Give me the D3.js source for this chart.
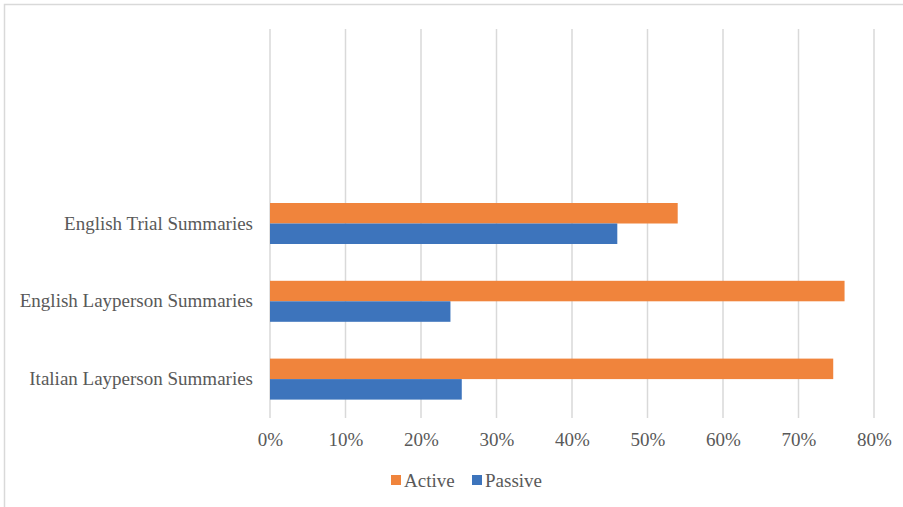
<!DOCTYPE html>
<html>
<head>
<meta charset="utf-8">
<script src="https://cdn.jsdelivr.net/npm/d3@7"></script>
<style>
  body { margin: 0; background: #fff; }
  svg text { font-family: "Liberation Serif", "Times New Roman", serif; fill: #595959; }
</style>
</head>
<body>
<div id="viz"></div>
<script>
// chart data
const categories = ["", "", "English Trial Summaries", "English Layperson Summaries", "Italian Layperson Summaries"];
const seriesNames = ["Active", "Passive"];
const activeValues = [null, null, 0.54, 0.761, 0.746];
const passiveValues = [null, null, 0.46, 0.239, 0.254];
const xTicks = [0, 0.1, 0.2, 0.3, 0.4, 0.5, 0.6, 0.7, 0.8];

const COLORS = {Active: "#f0843c", Passive: "#3d74bc"};
const FONT_SIZE = 19;

const F_WIDTH = 903;
const F_HEIGHT = 507;
const MARGINS = {left: 270, right: 29, top: 29, bottom: 89};
const VIS_WIDTH = F_WIDTH - MARGINS.left - MARGINS.right;
const VIS_HEIGHT = F_HEIGHT - MARGINS.top - MARGINS.bottom;

const FRAME = d3.select("#viz")
  .append("svg")
    .attr("width", F_WIDTH)
    .attr("height", F_HEIGHT);

// outer chart border
FRAME.append("rect")
  .attr("x", 4.5).attr("y", 4.5)
  .attr("width", F_WIDTH + 10).attr("height", F_HEIGHT + 10)
  .attr("fill", "none")
  .attr("stroke", "#d9d9d9")
  .attr("stroke-width", 1.5);

const X_SCALE = d3.scaleLinear()
  .domain([0, 0.8])
  .range([0, 604]);

const Y_SCALE = d3.scaleBand()
  .domain(categories.map((d, i) => i))
  .range([0, VIS_HEIGHT])
  .paddingInner(0.473)
  .paddingOuter(0.2365);

const SUB_SCALE = d3.scaleBand()
  .domain(seriesNames)
  .range([0, Y_SCALE.bandwidth()]);

const plot = FRAME.append("g")
  .attr("transform", "translate(" + MARGINS.left + "," + MARGINS.top + ")");

// vertical gridlines
plot.selectAll(".grid")
  .data(xTicks)
  .enter()
  .append("line")
    .attr("x1", d => X_SCALE(d)).attr("x2", d => X_SCALE(d))
    .attr("y1", 0).attr("y2", VIS_HEIGHT)
    .attr("stroke", "#d9d9d9")
    .attr("stroke-width", 1.5);

// bars
const rows = categories.map((c, i) => ({i: i, Active: activeValues[i], Passive: passiveValues[i]}));

seriesNames.forEach(s => {
  plot.selectAll(".bar-" + s)
    .data(rows.filter(r => r[s] != null))
    .enter()
    .append("rect")
      .attr("x", 0)
      .attr("y", d => Y_SCALE(d.i) + SUB_SCALE(s))
      .attr("width", d => X_SCALE(d[s]))
      .attr("height", SUB_SCALE.bandwidth())
      .attr("fill", COLORS[s]);
});

// x axis labels
const xAxis = plot.append("g")
  .attr("transform", "translate(0," + VIS_HEIGHT + ")")
  .call(d3.axisBottom(X_SCALE).tickValues(xTicks).tickFormat(d3.format(".0%")).tickSize(0).tickPadding(15));
xAxis.select(".domain").remove();
xAxis.selectAll("text").attr("font-size", FONT_SIZE).attr("font-family", null).attr("fill", null);

// y axis labels
const yAxis = plot.append("g")
  .call(d3.axisLeft(Y_SCALE).tickFormat(i => categories[i]).tickSize(0).tickPadding(17));
yAxis.select(".domain").remove();
yAxis.selectAll("text").attr("font-size", FONT_SIZE).attr("font-family", null).attr("fill", null);

// legend
const legend = FRAME.append("g").attr("transform", "translate(391,480)");
const legendX = [0, 81];
seriesNames.forEach((s, i) => {
  const g = legend.append("g").attr("transform", "translate(" + legendX[i] + ",0)");
  g.append("rect").attr("x", 0).attr("y", -5).attr("width", 10).attr("height", 10).attr("fill", COLORS[s]);
  g.append("text").attr("x", 13).attr("y", 0).attr("dy", "0.35em").attr("font-size", FONT_SIZE).text(s);
});
</script>
</body>
</html>
